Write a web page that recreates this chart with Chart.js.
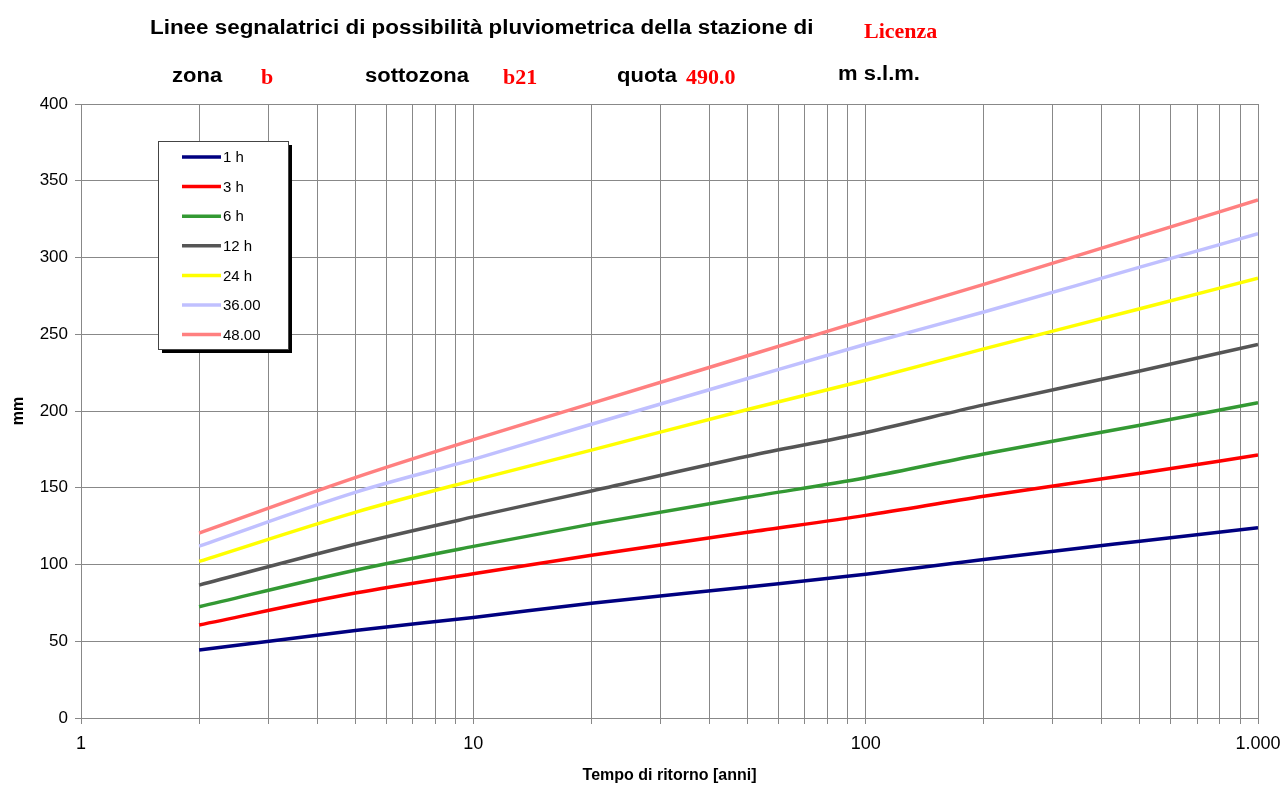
<!DOCTYPE html>
<html>
<head>
<meta charset="utf-8">
<script src="https://cdn.jsdelivr.net/npm/chart.js@4.4.1/dist/chart.umd.min.js"></script>
<style>
  html, body { margin: 0; padding: 0; background: #fff; }
  #wrap { width: 1283px; height: 787px; position: relative; }
</style>
</head>
<body>
<div id="wrap"><canvas id="myChart"></canvas></div>
<script>
// return periods (anni)
var tempi = [2, 5, 10, 20, 50, 100, 200, 500, 1000];

// rainfall depth (mm) for each duration
var h1  = [44.3, 57.0, 65.5, 74.8, 85.4, 93.7, 103.3, 115.2, 124.0];
var h3  = [60.6, 81.4, 94.0, 106.0, 121.0, 132.0, 144.5, 159.4, 171.3];
var h6  = [72.5, 96.3, 111.8, 126.3, 143.8, 156.5, 172.0, 190.7, 205.4];
var h12 = [86.6, 113.2, 131.0, 147.9, 170.5, 186.0, 204.0, 226.1, 243.4];
var h24 = [102.0, 134.0, 154.8, 174.5, 201.0, 220.0, 240.5, 266.6, 286.5];
var h36 = [112.0, 147.0, 168.5, 191.4, 221.2, 243.5, 264.5, 293.7, 315.5];
var h48 = [120.5, 156.6, 181.3, 205.0, 236.0, 259.5, 282.5, 313.8, 337.5];

var labels = ['1 h', '3 h', '6 h', '12 h', '24 h', '36.00', '48.00'];
var colors = ['#000080', '#ff0000', '#339933', '#555555', '#ffff00', '#c0c0ff', '#ff8080'];

// axis ticks
var yTicks = [0, 50, 100, 150, 200, 250, 300, 350, 400];
var xTicks = [1, 2, 3, 4, 5, 6, 7, 8, 9, 10, 20, 30, 40, 50, 60, 70, 80, 90,
              100, 200, 300, 400, 500, 600, 700, 800, 900, 1000];
var xLabels = { 1: '1', 10: '10', 100: '100', 1000: '1.000' };

var series = [h1, h3, h6, h12, h24, h36, h48];

var datasets = series.map(function (vals, i) {
    return {
        label: labels[i],
        data: tempi.map(function (t, j) { return { x: t, y: vals[j] }; }),
        borderColor: colors[i],
        backgroundColor: colors[i],
        borderWidth: 3.5,
        pointRadius: 0,
        cubicInterpolationMode: 'monotone',
        fill: false
    };
});

// heading text drawn on top of the canvas (stretched a bit like the original)
var headingPlugin = {
    id: 'heading',
    afterDraw: function (chart) {
        var c = chart.ctx;
        c.save();
        c.textBaseline = 'alphabetic';
        c.textAlign = 'left';
        var sans = 'bold 20px "Liberation Sans", Arial, sans-serif';
        var serif = 'bold 22px "Liberation Serif", "Times New Roman", serif';
        function put(txt, x, y, font, col, sx) {
            c.save();
            c.font = font; c.fillStyle = col;
            c.translate(x, y);
            c.scale(sx || 1, 1);
            c.fillText(txt, 0, 0);
            c.restore();
        }
        put('Linee segnalatrici di possibilità pluviometrica della stazione di', 150, 34, sans, '#000', 1.12);
        put('Licenza', 864, 38, serif, '#ff0000');
        put('zona', 172, 82, sans, '#000', 1.1);
        put('b', 261, 84, serif, '#ff0000');
        put('sottozona', 365, 82, sans, '#000', 1.1);
        put('b21', 503, 84, serif, '#ff0000');
        put('quota', 617, 82, sans, '#000', 1.1);
        put('490.0', 686, 84, serif, '#ff0000');
        put('m s.l.m.', 838, 80, sans, '#000', 1.1);
        c.restore();
    }
};

// boxed legend inside the plot, with drop shadow
var legendBox = {
    id: 'legendBox',
    afterDraw: function (chart) {
        var c = chart.ctx;
        var x = 158, y = 141, w = 130, h = 208;
        c.save();
        c.fillStyle = '#000';
        c.fillRect(x + 4, y + 4, w, h);
        c.fillStyle = '#fff';
        c.fillRect(x, y, w, h);
        c.strokeStyle = '#444';
        c.lineWidth = 1;
        c.strokeRect(x + 0.5, y + 0.5, w, h);
        c.font = '15px "Liberation Sans", Arial, sans-serif';
        c.textBaseline = 'middle';
        c.textAlign = 'left';
        chart.data.datasets.forEach(function (ds, i) {
            var ry = 157 + i * 29.6;
            c.strokeStyle = ds.borderColor;
            c.lineWidth = 3.5;
            c.beginPath();
            c.moveTo(182, ry);
            c.lineTo(221, ry);
            c.stroke();
            c.fillStyle = '#000';
            c.fillText(ds.label, 223, ry + 1);
        });
        c.restore();
    }
};

var ctx = document.getElementById('myChart').getContext('2d');
var myChart = new Chart(ctx, {
    type: 'line',
    data: { datasets: datasets },
    plugins: [headingPlugin, legendBox],
    options: {
        responsive: true,
        maintainAspectRatio: false,
        animation: false,
        layout: { padding: { top: 104, right: 25, left: 0, bottom: 0 } },
        plugins: {
            legend: { display: false },
            tooltip: { enabled: false }
        },
        scales: {
            x: {
                type: 'logarithmic',
                min: 1,
                max: 1000,
                afterBuildTicks: function (axis) {
                    axis.ticks = xTicks.map(function (v) { return { value: v }; });
                },
                afterFit: function (axis) {
                    axis.height = 69;
                    axis.paddingLeft = 0;
                    axis.paddingRight = 0;
                },
                grid: { color: '#888', lineWidth: 1, tickLength: 6 },
                border: { color: '#888' },
                ticks: {
                    autoSkip: false,
                    maxRotation: 0,
                    padding: 9,
                    color: '#000',
                    font: { family: '"Liberation Sans Narrow", "Liberation Sans", Arial', size: 18 },
                    callback: function (v) { return xLabels[v] || ''; }
                },
                title: {
                    display: true,
                    text: 'Tempo di ritorno [anni]',
                    color: '#000',
                    font: { family: '"Liberation Sans", Arial', size: 16, weight: 'bold' },
                    padding: { top: 0, bottom: 2 }
                }
            },
            y: {
                min: 0,
                max: 400,
                afterBuildTicks: function (axis) {
                    axis.ticks = yTicks.map(function (v) { return { value: v }; });
                },
                afterFit: function (axis) {
                    axis.width = 81;
                    axis.paddingTop = 0;
                    axis.paddingBottom = 0;
                },
                grid: { color: '#888', lineWidth: 1, tickLength: 6 },
                border: { color: '#888' },
                ticks: {
                    padding: 7,
                    color: '#000',
                    font: { family: '"Liberation Sans", Arial', size: 17 }
                },
                title: {
                    display: true,
                    text: 'mm',
                    color: '#000',
                    font: { family: '"Liberation Sans", Arial', size: 16, weight: 'bold' },
                    padding: { top: 9, bottom: 0 }
                }
            }
        }
    }
});
</script>
</body>
</html>
